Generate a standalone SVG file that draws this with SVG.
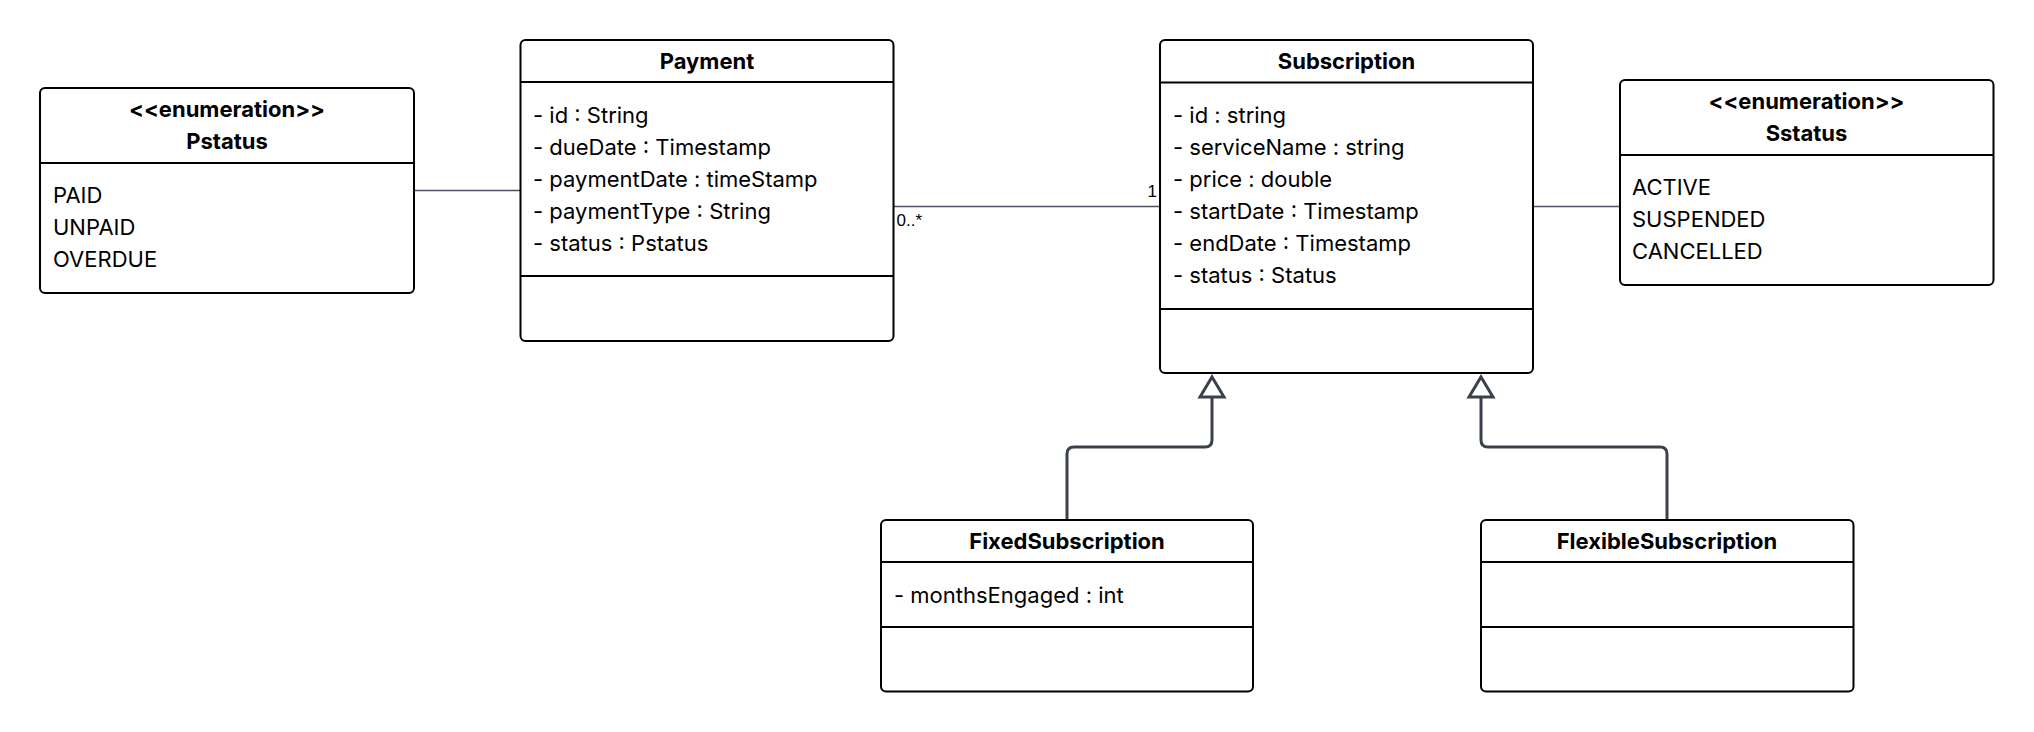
<svg xmlns="http://www.w3.org/2000/svg" width="2034" height="732" viewBox="0 0 2034 732">
<style>
.box{fill:#fff;stroke:#000;stroke-width:2}
.div{stroke:#000;stroke-width:2}
.t{font-family:Inter,"Noto Sans",sans-serif;font-size:22px;fill:#000}
.b{font-weight:bold;text-anchor:middle}
.assoc{fill:none;stroke:#4a5160;stroke-width:1.3}
.gen{fill:none;stroke:#3a414a;stroke-width:3}
.tri{fill:#fff;stroke:#3a414a;stroke-width:3;stroke-linejoin:miter}
.lbl{font-family:"Liberation Sans",Arial,sans-serif;font-size:17px;fill:#000}
</style>
<rect width="2034" height="732" fill="#fff"/>
<g id="connectors">
<path class="assoc" d="M414 190.5 H520.5"/>
<path class="assoc" d="M894 206.5 H1160"/>
<path class="assoc" d="M1533 206.5 H1620"/>
<text class="lbl" x="896.5" y="226">0..*</text>
<text class="lbl" x="1157" y="197" text-anchor="end">1</text>
<path class="gen" d="M1067 520 V454 Q1067 447 1074 447 H1205 Q1212 447 1212 440 V398"/>
<polygon class="tri" points="1212,377 1224,397 1200,397"/>
<path class="gen" d="M1667 520 V454 Q1667 447 1660 447 H1488 Q1481 447 1481 440 V398"/>
<polygon class="tri" points="1481,377 1493,397 1469,397"/>
</g>
<g id="Pstatus">
<rect class="box" x="40" y="88" width="374" height="205" rx="5"/>
<line class="div" x1="40" y1="163" x2="414" y2="163"/>
<text class="t b" x="227" y="117">&lt;&lt;enumeration&gt;&gt;</text>
<text class="t b" x="227" y="149">Pstatus</text>
<text class="t" x="53" y="203">PAID</text>
<text class="t" x="53" y="235">UNPAID</text>
<text class="t" x="53" y="267">OVERDUE</text>
</g>
<g id="Payment">
<rect class="box" x="520.5" y="40" width="373" height="301" rx="5"/>
<line class="div" x1="520.5" y1="82" x2="893.5" y2="82"/>
<line class="div" x1="520.5" y1="276" x2="893.5" y2="276"/>
<text class="t b" x="707" y="69">Payment</text>
<text class="t" x="533" y="123">- id : String</text>
<text class="t" x="533" y="155">- dueDate : Timestamp</text>
<text class="t" x="533" y="187">- paymentDate : timeStamp</text>
<text class="t" x="533" y="219">- paymentType : String</text>
<text class="t" x="533" y="251">- status : Pstatus</text>
</g>
<g id="Subscription">
<rect class="box" x="1160" y="40" width="373" height="333" rx="5"/>
<line class="div" x1="1160" y1="82.5" x2="1533" y2="82.5"/>
<line class="div" x1="1160" y1="309" x2="1533" y2="309"/>
<text class="t b" x="1346.5" y="69">Subscription</text>
<text class="t" x="1173" y="122.5">- id : string</text>
<text class="t" x="1173" y="154.5">- serviceName : string</text>
<text class="t" x="1173" y="186.5">- price : double</text>
<text class="t" x="1173" y="218.5">- startDate : Timestamp</text>
<text class="t" x="1173" y="250.5">- endDate : Timestamp</text>
<text class="t" x="1173" y="282.5">- status : Status</text>
</g>
<g id="Sstatus">
<rect class="box" x="1620" y="80" width="373.5" height="205" rx="5"/>
<line class="div" x1="1620" y1="155" x2="1993.5" y2="155"/>
<text class="t b" x="1806.5" y="109">&lt;&lt;enumeration&gt;&gt;</text>
<text class="t b" x="1806.5" y="141">Sstatus</text>
<text class="t" x="1632" y="195">ACTIVE</text>
<text class="t" x="1632" y="227">SUSPENDED</text>
<text class="t" x="1632" y="259">CANCELLED</text>
</g>
<g id="FixedSubscription">
<rect class="box" x="881" y="520" width="372" height="171.5" rx="5"/>
<line class="div" x1="881" y1="562" x2="1253" y2="562"/>
<line class="div" x1="881" y1="627" x2="1253" y2="627"/>
<text class="t b" x="1067" y="549">FixedSubscription</text>
<text class="t" x="894" y="603">- monthsEngaged : int</text>
</g>
<g id="FlexibleSubscription">
<rect class="box" x="1481" y="520" width="372.5" height="171.5" rx="5"/>
<line class="div" x1="1481" y1="562" x2="1853.5" y2="562"/>
<line class="div" x1="1481" y1="627" x2="1853.5" y2="627"/>
<text class="t b" x="1667" y="549">FlexibleSubscription</text>
</g>
</svg>
